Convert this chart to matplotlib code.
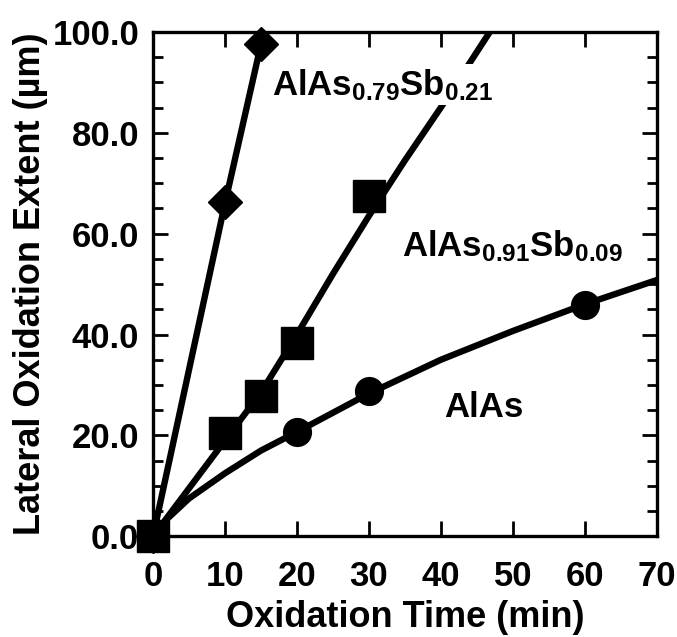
import matplotlib
matplotlib.use("Agg")
import matplotlib.pyplot as plt
from matplotlib.ticker import MultipleLocator, FormatStrFormatter

plt.rcParams['font.family'] = ['Liberation Sans', 'DejaVu Sans']
plt.rcParams['font.weight'] = 'bold'
plt.rcParams['mathtext.default'] = 'regular'

# measured points
time_alas = [0, 20, 30, 60]
ext_alas = [0, 20.6, 28.8, 45.8]
time_sb09 = [0, 10, 15, 20, 30]
ext_sb09 = [0, 20.5, 27.8, 38.3, 67.5]
time_sb21 = [0, 10, 15]
ext_sb21 = [0, 66.2, 97.6]

# fitted curves
fit_t_alas = [0, 2, 5, 10, 15, 20, 30, 40, 50, 60, 70]
fit_y_alas = [0, 3.5, 7.5, 12.5, 17, 20.7, 28.3, 35, 40.7, 46, 50.8]
fit_t_sb09 = [0, 5, 10, 15, 20, 25, 30, 35, 40, 45, 47.5]
fit_y_sb09 = [0, 9.5, 19, 28.5, 40, 52, 63.5, 74.5, 85, 96, 101.5]
fit_t_sb21 = [0, 10, 15, 15.6]
fit_y_sb21 = [0, 66, 97.5, 101]

x_ticks = [0, 10, 20, 30, 40, 50, 60, 70]
y_ticks = [0, 20, 40, 60, 80, 100]

fig = plt.figure(figsize=(6.77, 6.37), dpi=100)
ax = fig.add_axes([0.226, 0.158, 0.744, 0.792])

lw = 4.6
ax.plot(fit_t_alas, fit_y_alas, color='black', lw=lw, zorder=2)
ax.plot(fit_t_sb09, fit_y_sb09, color='black', lw=lw, zorder=2)
ax.plot(fit_t_sb21, fit_y_sb21, color='black', lw=lw, zorder=2)

ax.plot(time_alas, ext_alas, 'o', color='black', ms=20, zorder=4, clip_on=False)
ax.plot(time_sb21, ext_sb21, 'D', color='black', ms=17.5, zorder=4, clip_on=False)
ax.plot(time_sb09, ext_sb09, 's', color='black', ms=23, zorder=5, clip_on=False)

fs = 25
box = dict(facecolor='white', edgecolor='none', pad=2)
ax.text(16.5, 87.5, 'AlAs$_{0.79}$Sb$_{0.21}$', fontsize=fs, fontweight='bold',
        ha='left', va='baseline', bbox=box, zorder=3)
ax.text(34.6, 55.6, 'AlAs$_{0.91}$Sb$_{0.09}$', fontsize=fs, fontweight='bold',
        ha='left', va='baseline', bbox=box, zorder=3)
ax.text(40.4, 23.6, 'AlAs', fontsize=fs, fontweight='bold',
        ha='left', va='baseline', zorder=3)

ax.set_xlim(0, 70)
ax.set_ylim(0, 100)
ax.set_xticks(x_ticks)
ax.set_yticks(y_ticks)
ax.yaxis.set_minor_locator(MultipleLocator(5))
ax.yaxis.set_major_formatter(FormatStrFormatter('%.1f'))
ax.tick_params(which='both', direction='in', top=True, right=True, width=2,
               labelsize=fs)
ax.tick_params(which='major', length=11)
ax.tick_params(axis='x', which='major', pad=17)
ax.tick_params(axis='y', which='major', pad=10)
ax.tick_params(which='minor', length=7)
for sp in ax.spines.values():
    sp.set_linewidth(2.4)

ax.set_xlabel('Oxidation Time (min)', fontsize=26, fontweight='bold', labelpad=5)
ax.set_ylabel('Lateral Oxidation Extent (µm)', fontsize=26, fontweight='bold', labelpad=3)

fig.savefig('out.png', dpi=100)
